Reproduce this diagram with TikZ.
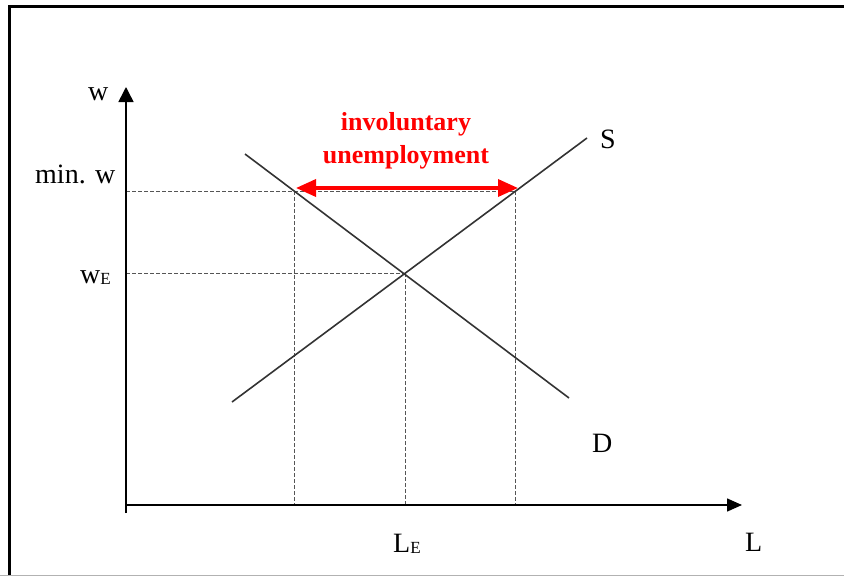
\documentclass[tikz,border=0pt]{standalone}
\usepackage{fontspec}
\setmainfont{Liberation Serif}
\usetikzlibrary{arrows.meta}
\definecolor{curvecol}{HTML}{333333}
\definecolor{guidecol}{HTML}{555555}
\begin{document}
\begin{tikzpicture}[x=1pt,y=-1pt,
  lab/.style={inner sep=0pt,anchor=base west,font=\fontsize{28}{30}\selectfont},
  redlab/.style={inner sep=0pt,anchor=base,text=red,font=\fontsize{26}{28}\selectfont\bfseries},
  axis/.style={line width=1.5pt,black},
  curveline/.style={line width=1.6pt,draw=curvecol},
  guide/.style={line width=0.9pt,draw=guidecol,dash pattern=on 4pt off 2pt},
  gap/.style={line width=3.5pt,red,{Triangle[length=20pt,width=17pt]}-{Triangle[length=20pt,width=17pt]}}
]
\useasboundingbox (0,0) rectangle (844,576);
% frame
\draw[line width=3pt,black] (9.5,576) -- (9.5,6.5) -- (844,6.5);
\draw[line width=0.8pt,gray!60] (0,575) -- (844,575);
% key points
\coordinate (O) at (126,505);
\coordinate (ybot) at (126,513);
\coordinate (ytop) at (126,87);
\coordinate (xend) at (742,505);
\coordinate (s1) at (232,402);
\coordinate (s2) at (587,138);
\coordinate (d1) at (245,154);
\coordinate (d2) at (569,398);
\coordinate (E) at (405,273);
\coordinate (Ew) at (126,273);
\coordinate (Eb) at (405,505);
\coordinate (mw) at (126,191);
\coordinate (qd) at (294,191);
\coordinate (qs) at (515,191);
\coordinate (qdb) at (294,505);
\coordinate (qsb) at (515,505);
\coordinate (al) at (296,188);
\coordinate (ar) at (518,188);
% guides
\draw[guide] (mw) -- (qs);
\draw[guide] (Ew) -- (E);
\draw[guide] (qd) -- (qdb);
\draw[guide] (E) -- (Eb);
\draw[guide] (qs) -- (qsb);
% axes
\draw[axis,-{Triangle[length=15pt,width=15pt]}] (ybot) -- (ytop);
\draw[axis,-{Triangle[length=15pt,width=13pt]}] (O) -- (xend);
% curves
\draw[curveline] (s1) -- (s2);
\draw[curveline] (d1) -- (d2);
% red arrow
\draw[gap] (al) -- (ar);
% labels
\node[lab] (lw) at (88,100) {w};
\node[lab] (lmin) at (35,183) {min. w};
\node[lab] (lwe) at (80,283) {w\raisebox{-1pt}{\fontsize{17}{17}\selectfont E}};
\node[lab] (lS) at (600,148) {S};
\node[lab] (lD) at (592,452) {D};
\node[lab] (lL) at (745,551) {L};
\node[lab] (lLE) at (393,552) {L\raisebox{-1pt}{\fontsize{17}{17}\selectfont E}};
\node[redlab] (inv) at (406,130) {involuntary};
\node[redlab] (unemp) at (406,163) {unemployment};
\end{tikzpicture}
\end{document}
